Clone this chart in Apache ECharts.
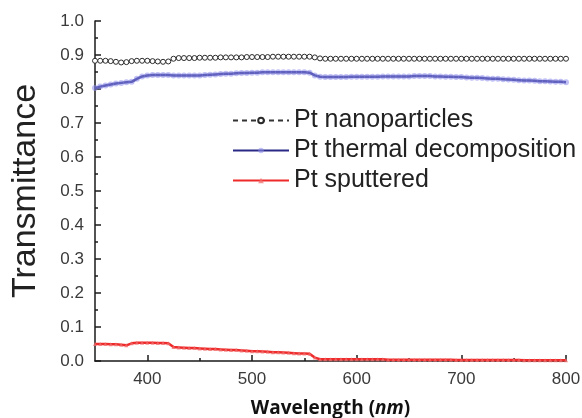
<!DOCTYPE html>
<html>
<head>
<meta charset="utf-8">
<script src="https://cdn.jsdelivr.net/npm/echarts@6/dist/echarts.min.js"></script>
<style>
  html, body { margin: 0; padding: 0; background: #fff; }
  #chart { width: 582px; height: 418px; background: #fff; }
</style>
</head>
<body>
<div id="chart"></div>
<script>
// Wavelength samples (nm), every 5 nm from 350 to 800
const wavelengths = [
  350,355,360,365,370,375,380,385,390,395,
  400,405,410,415,420,425,430,435,440,445,
  450,455,460,465,470,475,480,485,490,495,
  500,505,510,515,520,525,530,535,540,545,
  550,555,560,565,570,575,580,585,590,595,
  600,605,610,615,620,625,630,635,640,645,
  650,655,660,665,670,675,680,685,690,695,
  700,705,710,715,720,725,730,735,740,745,
  750,755,760,765,770,775,780,785,790,795,
  800
];

// Transmittance of the three Pt counter electrodes
const ptNanoparticles = [
  0.883,0.883,0.883,0.882,0.880,0.878,0.879,0.882,0.883,0.883,
  0.883,0.882,0.881,0.880,0.881,0.889,0.891,0.891,0.891,0.891,
  0.892,0.892,0.892,0.892,0.893,0.893,0.893,0.893,0.893,0.894,
  0.894,0.894,0.894,0.894,0.895,0.895,0.895,0.895,0.895,0.895,
  0.895,0.895,0.893,0.890,0.889,0.889,0.889,0.889,0.889,0.889,
  0.889,0.889,0.889,0.889,0.889,0.889,0.889,0.889,0.889,0.889,
  0.889,0.889,0.889,0.889,0.889,0.889,0.889,0.889,0.889,0.889,
  0.889,0.889,0.889,0.889,0.889,0.889,0.889,0.889,0.889,0.889,
  0.889,0.889,0.889,0.889,0.889,0.889,0.889,0.889,0.889,0.889,
  0.889
];

const ptThermal = [
  0.803,0.807,0.810,0.813,0.816,0.818,0.820,0.821,0.830,0.837,
  0.840,0.841,0.841,0.841,0.841,0.840,0.840,0.840,0.840,0.840,
  0.840,0.841,0.842,0.843,0.844,0.845,0.845,0.846,0.847,0.847,
  0.848,0.848,0.849,0.849,0.849,0.849,0.849,0.849,0.849,0.849,
  0.849,0.848,0.840,0.836,0.835,0.835,0.835,0.835,0.835,0.836,
  0.836,0.836,0.836,0.836,0.836,0.837,0.837,0.837,0.837,0.837,
  0.837,0.838,0.838,0.838,0.838,0.837,0.837,0.836,0.836,0.835,
  0.835,0.834,0.833,0.833,0.832,0.831,0.830,0.830,0.829,0.828,
  0.827,0.826,0.825,0.825,0.824,0.823,0.823,0.822,0.821,0.821,
  0.820
];

const ptSputtered = [
  0.050,0.050,0.050,0.049,0.049,0.048,0.046,0.052,0.054,0.054,
  0.054,0.054,0.053,0.053,0.052,0.041,0.040,0.039,0.038,0.038,
  0.037,0.036,0.035,0.035,0.034,0.033,0.032,0.032,0.031,0.030,
  0.029,0.029,0.028,0.027,0.026,0.026,0.025,0.024,0.023,0.022,
  0.022,0.021,0.010,0.005,0.005,0.005,0.005,0.005,0.005,0.005,
  0.005,0.005,0.005,0.005,0.005,0.005,0.004,0.004,0.004,0.004,
  0.004,0.004,0.004,0.004,0.004,0.004,0.004,0.004,0.004,0.003,
  0.003,0.003,0.003,0.003,0.003,0.003,0.003,0.003,0.003,0.003,
  0.003,0.003,0.002,0.002,0.002,0.002,0.002,0.002,0.002,0.002,
  0.002
];

const xMajorTicks = [400, 500, 600, 700, 800];
const xMinorTicks = [450, 550, 650, 750];

function pairs(ys) {
  return wavelengths.map((x, i) => [x, ys[i]]);
}

const chart = echarts.init(document.getElementById('chart'));

const labelFont = 'Liberation Sans, Arial, sans-serif';

chart.setOption({
  animation: false,
  grid: { left: 95, right: 16, top: 21, bottom: 57, outerBoundsMode: 'none' },
  legend: {
    orient: 'vertical',
    left: 227,
    top: 103,
    itemWidth: 56,
    itemHeight: 7,
    itemGap: 5,
    textStyle: { fontFamily: labelFont, fontSize: 25, color: '#222' },
    data: ['Pt nanoparticles', 'Pt thermal decomposition', 'Pt sputtered']
  },
  xAxis: [
    {
      type: 'value',
      min: 350,
      max: 800,
      name: '{b|Wavelength (}{i|nm}{b|)}',
      nameLocation: 'middle',
      nameGap: 38,
      nameTextStyle: {
        rich: {
          b: { fontFamily: 'Open Sans, sans-serif', fontWeight: 'bold', fontSize: 19, color: '#111' },
          i: { fontFamily: 'Open Sans, sans-serif', fontWeight: 'bold', fontStyle: 'italic', fontSize: 19, color: '#111' }
        }
      },
      splitLine: { show: false },
      axisLine: { show: true, onZero: false, lineStyle: { color: '#1a1a1a', width: 1.5 } },
      axisTick: { show: true, inside: true, length: 6, customValues: xMajorTicks, lineStyle: { color: '#1c1c1c', width: 1.5 } },
      axisLabel: { customValues: xMajorTicks, fontFamily: labelFont, fontSize: 17, color: '#3a3a3a', margin: 10 }
    },
    {
      type: 'value',
      min: 350,
      max: 800,
      position: 'bottom',
      splitLine: { show: false },
      axisLine: { show: false },
      axisTick: { show: true, inside: true, length: 3, customValues: xMinorTicks, lineStyle: { color: '#1c1c1c', width: 1.5 } },
      axisLabel: { show: false }
    }
  ],
  yAxis: [
    {
      // half-step minor ticks, drawn inward (listed first so the major ticks sit on top)
      type: 'value',
      min: 0,
      max: 1,
      interval: 0.05,
      position: 'left',
      splitLine: { show: false },
      axisLine: { show: false },
      axisTick: { show: true, inside: true, length: 3, lineStyle: { color: '#1c1c1c', width: 1.5 } },
      axisLabel: { show: false }
    },
    {
      type: 'value',
      min: 0,
      max: 1,
      interval: 0.1,
      position: 'left',
      name: 'Transmittance',
      nameLocation: 'middle',
      nameGap: 52,
      nameTextStyle: { fontFamily: labelFont, fontSize: 34, color: '#222' },
      splitLine: { show: false },
      axisLine: { show: true, lineStyle: { color: '#1a1a1a', width: 1.5 } },
      axisTick: { show: true, inside: true, length: 6, lineStyle: { color: '#1c1c1c', width: 1.5 } },
      axisLabel: {
        fontFamily: labelFont, fontSize: 17, color: '#3a3a3a', margin: 11,
        formatter: v => v.toFixed(1)
      }
    }
  ],
  series: [
    {
      name: 'Pt nanoparticles',
      type: 'line',
      yAxisIndex: 1,
      data: pairs(ptNanoparticles),
      symbol: 'circle',
      symbolSize: 5,
      showAllSymbol: true,
      lineStyle: { color: '#333', width: 1.2, type: [5, 4] },
      itemStyle: { color: '#ffffff', borderColor: '#2a2a2a', borderWidth: 1 }
    },
    {
      name: 'Pt thermal decomposition',
      type: 'line',
      yAxisIndex: 1,
      data: pairs(ptThermal),
      symbol: 'circle',
      symbolSize: 6,
      showAllSymbol: true,
      lineStyle: { color: '#2a2a86', width: 2.5 },
      itemStyle: { color: 'rgba(140,140,235,0.55)', borderWidth: 0 }
    },
    {
      name: 'Pt sputtered',
      type: 'line',
      yAxisIndex: 1,
      data: pairs(ptSputtered),
      symbol: 'triangle',
      symbolSize: 4,
      showAllSymbol: true,
      lineStyle: { color: '#ee2a2a', width: 2.5 },
      itemStyle: { color: 'rgba(240,110,110,0.75)', borderWidth: 0 }
    }
  ]
});
</script>
</body>
</html>
